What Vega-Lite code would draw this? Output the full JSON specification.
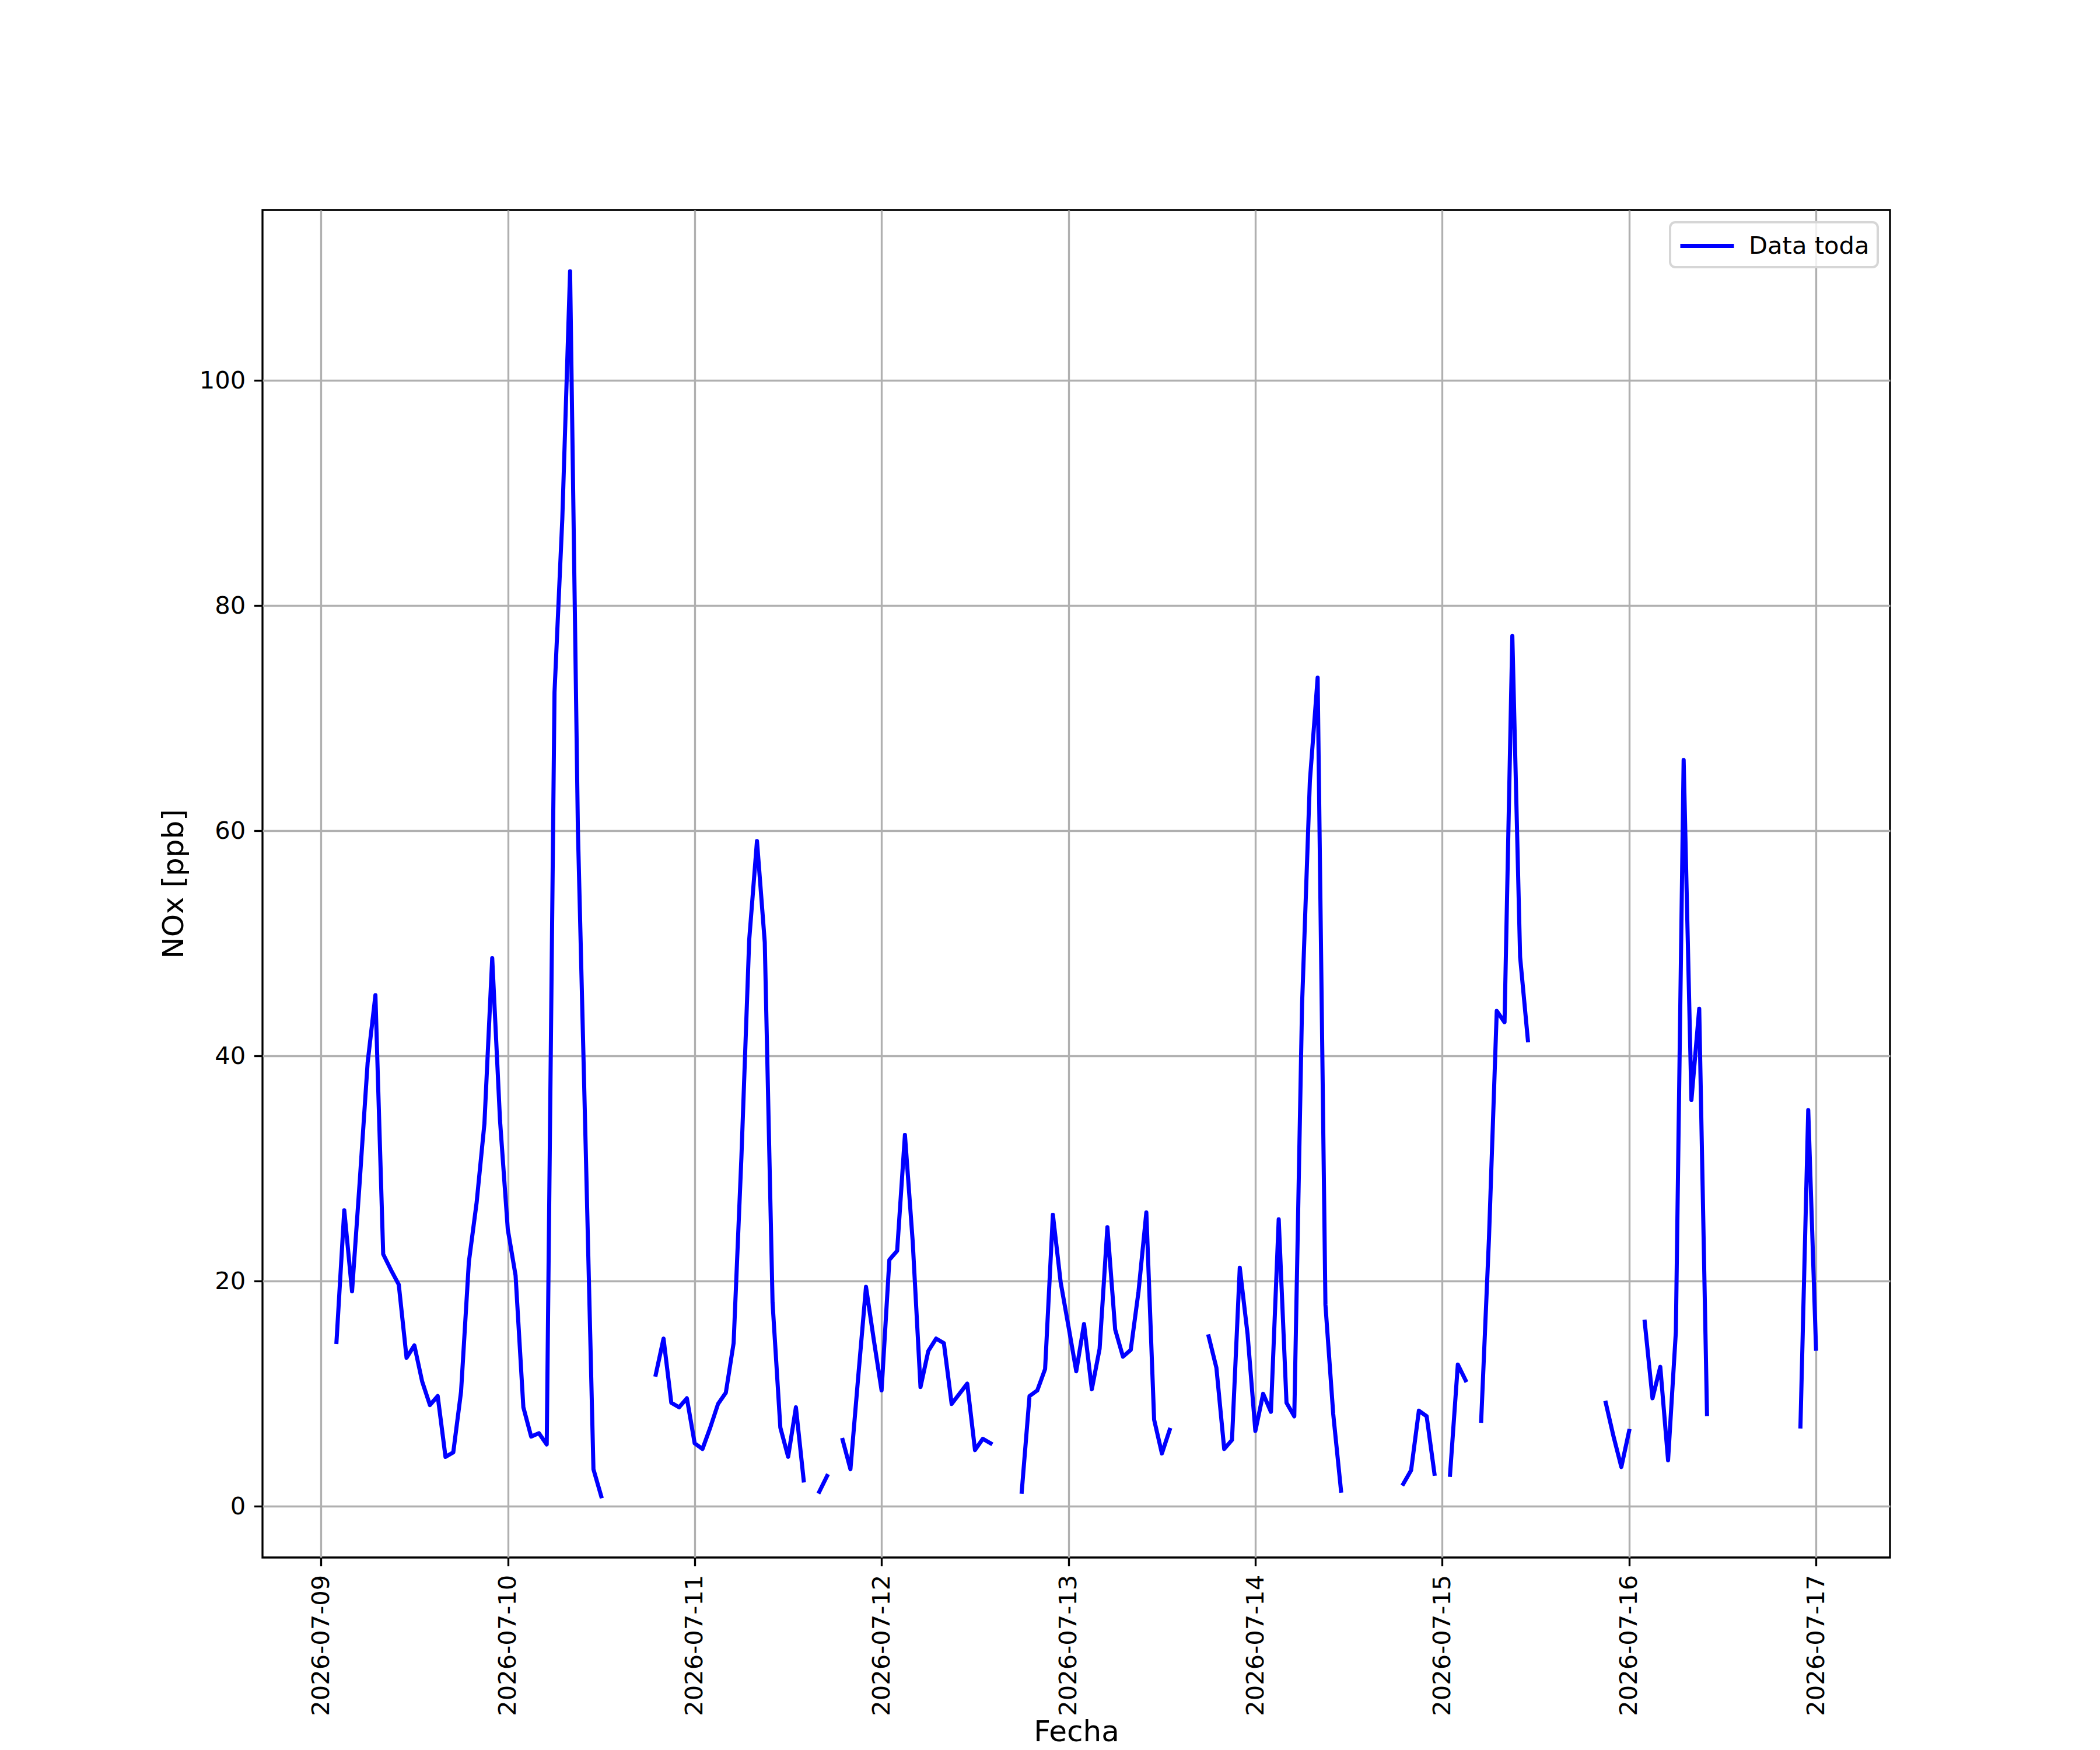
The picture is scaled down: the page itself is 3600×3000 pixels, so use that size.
{
  "$schema": "https://vega.github.io/schema/vega-lite/v6.json",
  "width": 2790,
  "height": 2310,
  "autosize": {"type": "none"},
  "padding": {"left": 450, "top": 360, "right": 360, "bottom": 330},
  "background": "white",
  "data": {
    "values": [
      {"fecha": "2026-07-09T02:00", "nox": 14.6},
      {"fecha": "2026-07-09T03:00", "nox": 26.3},
      {"fecha": "2026-07-09T04:00", "nox": 19.1},
      {"fecha": "2026-07-09T05:00", "nox": 29.0},
      {"fecha": "2026-07-09T06:00", "nox": 39.4},
      {"fecha": "2026-07-09T07:00", "nox": 45.4},
      {"fecha": "2026-07-09T08:00", "nox": 22.4},
      {"fecha": "2026-07-09T09:00", "nox": 21.0},
      {"fecha": "2026-07-09T10:00", "nox": 19.7},
      {"fecha": "2026-07-09T11:00", "nox": 13.2},
      {"fecha": "2026-07-09T12:00", "nox": 14.3},
      {"fecha": "2026-07-09T13:00", "nox": 11.1},
      {"fecha": "2026-07-09T14:00", "nox": 9.0},
      {"fecha": "2026-07-09T15:00", "nox": 9.8},
      {"fecha": "2026-07-09T16:00", "nox": 4.4},
      {"fecha": "2026-07-09T17:00", "nox": 4.8},
      {"fecha": "2026-07-09T18:00", "nox": 10.2},
      {"fecha": "2026-07-09T19:00", "nox": 21.7},
      {"fecha": "2026-07-09T20:00", "nox": 27.0},
      {"fecha": "2026-07-09T21:00", "nox": 34.0},
      {"fecha": "2026-07-09T22:00", "nox": 48.7},
      {"fecha": "2026-07-09T23:00", "nox": 34.3},
      {"fecha": "2026-07-10T00:00", "nox": 24.6},
      {"fecha": "2026-07-10T01:00", "nox": 20.5},
      {"fecha": "2026-07-10T02:00", "nox": 8.8},
      {"fecha": "2026-07-10T03:00", "nox": 6.2},
      {"fecha": "2026-07-10T04:00", "nox": 6.5},
      {"fecha": "2026-07-10T05:00", "nox": 5.5},
      {"fecha": "2026-07-10T06:00", "nox": 72.3},
      {"fecha": "2026-07-10T07:00", "nox": 87.7},
      {"fecha": "2026-07-10T08:00", "nox": 109.7},
      {"fecha": "2026-07-10T09:00", "nox": 60.2},
      {"fecha": "2026-07-10T10:00", "nox": 32.0},
      {"fecha": "2026-07-10T11:00", "nox": 3.3},
      {"fecha": "2026-07-10T12:00", "nox": 0.9},
      {"fecha": "2026-07-10T13:00", "nox": null},
      {"fecha": "2026-07-10T14:00", "nox": null},
      {"fecha": "2026-07-10T15:00", "nox": null},
      {"fecha": "2026-07-10T16:00", "nox": null},
      {"fecha": "2026-07-10T17:00", "nox": null},
      {"fecha": "2026-07-10T18:00", "nox": null},
      {"fecha": "2026-07-10T19:00", "nox": 11.7},
      {"fecha": "2026-07-10T20:00", "nox": 14.9},
      {"fecha": "2026-07-10T21:00", "nox": 9.2},
      {"fecha": "2026-07-10T22:00", "nox": 8.8},
      {"fecha": "2026-07-10T23:00", "nox": 9.6},
      {"fecha": "2026-07-11T00:00", "nox": 5.6},
      {"fecha": "2026-07-11T01:00", "nox": 5.1},
      {"fecha": "2026-07-11T02:00", "nox": 7.0},
      {"fecha": "2026-07-11T03:00", "nox": 9.1},
      {"fecha": "2026-07-11T04:00", "nox": 10.1},
      {"fecha": "2026-07-11T05:00", "nox": 14.5},
      {"fecha": "2026-07-11T06:00", "nox": 31.0},
      {"fecha": "2026-07-11T07:00", "nox": 50.3},
      {"fecha": "2026-07-11T08:00", "nox": 59.1},
      {"fecha": "2026-07-11T09:00", "nox": 50.1},
      {"fecha": "2026-07-11T10:00", "nox": 18.1},
      {"fecha": "2026-07-11T11:00", "nox": 7.0},
      {"fecha": "2026-07-11T12:00", "nox": 4.4},
      {"fecha": "2026-07-11T13:00", "nox": 8.8},
      {"fecha": "2026-07-11T14:00", "nox": 2.3},
      {"fecha": "2026-07-11T15:00", "nox": null},
      {"fecha": "2026-07-11T16:00", "nox": 1.3},
      {"fecha": "2026-07-11T17:00", "nox": 2.7},
      {"fecha": "2026-07-11T18:00", "nox": null},
      {"fecha": "2026-07-11T19:00", "nox": 5.9},
      {"fecha": "2026-07-11T20:00", "nox": 3.3},
      {"fecha": "2026-07-11T21:00", "nox": 11.5},
      {"fecha": "2026-07-11T22:00", "nox": 19.5},
      {"fecha": "2026-07-11T23:00", "nox": 14.8},
      {"fecha": "2026-07-12T00:00", "nox": 10.3},
      {"fecha": "2026-07-12T01:00", "nox": 21.9},
      {"fecha": "2026-07-12T02:00", "nox": 22.7},
      {"fecha": "2026-07-12T03:00", "nox": 33.0},
      {"fecha": "2026-07-12T04:00", "nox": 23.5},
      {"fecha": "2026-07-12T05:00", "nox": 10.6},
      {"fecha": "2026-07-12T06:00", "nox": 13.8},
      {"fecha": "2026-07-12T07:00", "nox": 14.9},
      {"fecha": "2026-07-12T08:00", "nox": 14.5},
      {"fecha": "2026-07-12T09:00", "nox": 9.1},
      {"fecha": "2026-07-12T10:00", "nox": 10.0},
      {"fecha": "2026-07-12T11:00", "nox": 10.9},
      {"fecha": "2026-07-12T12:00", "nox": 5.0},
      {"fecha": "2026-07-12T13:00", "nox": 6.0},
      {"fecha": "2026-07-12T14:00", "nox": 5.6},
      {"fecha": "2026-07-12T15:00", "nox": null},
      {"fecha": "2026-07-12T16:00", "nox": null},
      {"fecha": "2026-07-12T17:00", "nox": null},
      {"fecha": "2026-07-12T18:00", "nox": 1.3},
      {"fecha": "2026-07-12T19:00", "nox": 9.8},
      {"fecha": "2026-07-12T20:00", "nox": 10.3},
      {"fecha": "2026-07-12T21:00", "nox": 12.2},
      {"fecha": "2026-07-12T22:00", "nox": 25.9},
      {"fecha": "2026-07-12T23:00", "nox": 19.9},
      {"fecha": "2026-07-13T00:00", "nox": 16.0},
      {"fecha": "2026-07-13T01:00", "nox": 12.0},
      {"fecha": "2026-07-13T02:00", "nox": 16.2},
      {"fecha": "2026-07-13T03:00", "nox": 10.4},
      {"fecha": "2026-07-13T04:00", "nox": 14.0},
      {"fecha": "2026-07-13T05:00", "nox": 24.8},
      {"fecha": "2026-07-13T06:00", "nox": 15.7},
      {"fecha": "2026-07-13T07:00", "nox": 13.3},
      {"fecha": "2026-07-13T08:00", "nox": 13.9},
      {"fecha": "2026-07-13T09:00", "nox": 19.1},
      {"fecha": "2026-07-13T10:00", "nox": 26.1},
      {"fecha": "2026-07-13T11:00", "nox": 7.7},
      {"fecha": "2026-07-13T12:00", "nox": 4.7},
      {"fecha": "2026-07-13T13:00", "nox": 6.8},
      {"fecha": "2026-07-13T14:00", "nox": null},
      {"fecha": "2026-07-13T15:00", "nox": null},
      {"fecha": "2026-07-13T16:00", "nox": null},
      {"fecha": "2026-07-13T17:00", "nox": null},
      {"fecha": "2026-07-13T18:00", "nox": 15.1},
      {"fecha": "2026-07-13T19:00", "nox": 12.3},
      {"fecha": "2026-07-13T20:00", "nox": 5.1},
      {"fecha": "2026-07-13T21:00", "nox": 5.9},
      {"fecha": "2026-07-13T22:00", "nox": 21.2},
      {"fecha": "2026-07-13T23:00", "nox": 15.3},
      {"fecha": "2026-07-14T00:00", "nox": 6.7},
      {"fecha": "2026-07-14T01:00", "nox": 10.0},
      {"fecha": "2026-07-14T02:00", "nox": 8.4},
      {"fecha": "2026-07-14T03:00", "nox": 25.5},
      {"fecha": "2026-07-14T04:00", "nox": 9.2},
      {"fecha": "2026-07-14T05:00", "nox": 8.0},
      {"fecha": "2026-07-14T06:00", "nox": 44.6},
      {"fecha": "2026-07-14T07:00", "nox": 64.4},
      {"fecha": "2026-07-14T08:00", "nox": 73.6},
      {"fecha": "2026-07-14T09:00", "nox": 17.9},
      {"fecha": "2026-07-14T10:00", "nox": 8.2},
      {"fecha": "2026-07-14T11:00", "nox": 1.4},
      {"fecha": "2026-07-14T12:00", "nox": null},
      {"fecha": "2026-07-14T13:00", "nox": null},
      {"fecha": "2026-07-14T14:00", "nox": null},
      {"fecha": "2026-07-14T15:00", "nox": null},
      {"fecha": "2026-07-14T16:00", "nox": null},
      {"fecha": "2026-07-14T17:00", "nox": null},
      {"fecha": "2026-07-14T18:00", "nox": null},
      {"fecha": "2026-07-14T19:00", "nox": 2.0},
      {"fecha": "2026-07-14T20:00", "nox": 3.2},
      {"fecha": "2026-07-14T21:00", "nox": 8.5},
      {"fecha": "2026-07-14T22:00", "nox": 8.0},
      {"fecha": "2026-07-14T23:00", "nox": 2.9},
      {"fecha": "2026-07-15T00:00", "nox": null},
      {"fecha": "2026-07-15T01:00", "nox": 2.8},
      {"fecha": "2026-07-15T02:00", "nox": 12.6},
      {"fecha": "2026-07-15T03:00", "nox": 11.2},
      {"fecha": "2026-07-15T04:00", "nox": null},
      {"fecha": "2026-07-15T05:00", "nox": 7.6},
      {"fecha": "2026-07-15T06:00", "nox": 23.8},
      {"fecha": "2026-07-15T07:00", "nox": 44.0},
      {"fecha": "2026-07-15T08:00", "nox": 43.0},
      {"fecha": "2026-07-15T09:00", "nox": 77.3},
      {"fecha": "2026-07-15T10:00", "nox": 48.8},
      {"fecha": "2026-07-15T11:00", "nox": 41.4},
      {"fecha": "2026-07-15T12:00", "nox": null},
      {"fecha": "2026-07-15T13:00", "nox": null},
      {"fecha": "2026-07-15T14:00", "nox": null},
      {"fecha": "2026-07-15T15:00", "nox": null},
      {"fecha": "2026-07-15T16:00", "nox": null},
      {"fecha": "2026-07-15T17:00", "nox": null},
      {"fecha": "2026-07-15T18:00", "nox": null},
      {"fecha": "2026-07-15T19:00", "nox": null},
      {"fecha": "2026-07-15T20:00", "nox": null},
      {"fecha": "2026-07-15T21:00", "nox": 9.2},
      {"fecha": "2026-07-15T22:00", "nox": 6.2},
      {"fecha": "2026-07-15T23:00", "nox": 3.5},
      {"fecha": "2026-07-16T00:00", "nox": 6.7},
      {"fecha": "2026-07-16T01:00", "nox": null},
      {"fecha": "2026-07-16T02:00", "nox": 16.4},
      {"fecha": "2026-07-16T03:00", "nox": 9.6},
      {"fecha": "2026-07-16T04:00", "nox": 12.4},
      {"fecha": "2026-07-16T05:00", "nox": 4.1},
      {"fecha": "2026-07-16T06:00", "nox": 15.5},
      {"fecha": "2026-07-16T07:00", "nox": 66.3},
      {"fecha": "2026-07-16T08:00", "nox": 36.1},
      {"fecha": "2026-07-16T09:00", "nox": 44.2},
      {"fecha": "2026-07-16T10:00", "nox": 8.2},
      {"fecha": "2026-07-16T11:00", "nox": null},
      {"fecha": "2026-07-16T12:00", "nox": null},
      {"fecha": "2026-07-16T13:00", "nox": null},
      {"fecha": "2026-07-16T14:00", "nox": null},
      {"fecha": "2026-07-16T15:00", "nox": null},
      {"fecha": "2026-07-16T16:00", "nox": null},
      {"fecha": "2026-07-16T17:00", "nox": null},
      {"fecha": "2026-07-16T18:00", "nox": null},
      {"fecha": "2026-07-16T19:00", "nox": null},
      {"fecha": "2026-07-16T20:00", "nox": null},
      {"fecha": "2026-07-16T21:00", "nox": null},
      {"fecha": "2026-07-16T22:00", "nox": 7.1},
      {"fecha": "2026-07-16T23:00", "nox": 35.2},
      {"fecha": "2026-07-17T00:00", "nox": 14.0}
    ]
  },
  "mark": {
    "type": "line",
    "strokeWidth": 7,
    "strokeJoin": "round",
    "strokeCap": "square",
    "clip": true
  },
  "encoding": {
    "x": {
      "field": "fecha",
      "type": "temporal",
      "title": "Fecha",
      "scale": {
        "domain": [
          {"year": 2026, "month": 7, "date": 8, "hours": 16, "minutes": 30},
          {"year": 2026, "month": 7, "date": 17, "hours": 9, "minutes": 30}
        ],
        "nice": false
      },
      "axis": {
        "values": [
          {"year": 2026, "month": 7, "date": 9},
          {"year": 2026, "month": 7, "date": 10},
          {"year": 2026, "month": 7, "date": 11},
          {"year": 2026, "month": 7, "date": 12},
          {"year": 2026, "month": 7, "date": 13},
          {"year": 2026, "month": 7, "date": 14},
          {"year": 2026, "month": 7, "date": 15},
          {"year": 2026, "month": 7, "date": 16},
          {"year": 2026, "month": 7, "date": 17}
        ],
        "format": "%Y-%m-%d",
        "labelAngle": 270,
        "titlePadding": 74
      }
    },
    "y": {
      "field": "nox",
      "type": "quantitative",
      "title": "NOx [ppb]",
      "scale": {"domain": [-4.54, 115.14], "nice": false, "zero": false},
      "axis": {"values": [0, 20, 40, 60, 80, 100], "titlePadding": 18}
    },
    "color": {
      "datum": "Data toda",
      "type": "nominal",
      "scale": {"range": ["#0000ff"]},
      "legend": {
        "title": null,
        "orient": "top-right",
        "offset": 21,
        "padding": 14,
        "cornerRadius": 9,
        "strokeColor": "#d6d6d6",
        "fillColor": "rgba(255,255,255,0.8)",
        "symbolType": "M-1,0H3",
        "symbolSize": 2116,
        "symbolStrokeWidth": 7,
        "symbolFillColor": "transparent",
        "labelOffset": 68,
        "labelFont": "DejaVu Sans",
        "labelFontSize": 41.67,
        "labelColor": "black",
        "labelLimit": 0,
        "encode": {"legend": {"update": {"strokeWidth": {"value": 4}}}}
      }
    }
  },
  "config": {
    "view": {"stroke": "black", "strokeWidth": 3.33},
    "axis": {
      "domain": false,
      "grid": true,
      "gridColor": "#b0b0b0",
      "gridWidth": 3.33,
      "gridOpacity": 1,
      "ticks": true,
      "tickColor": "black",
      "tickWidth": 3.33,
      "tickSize": 14.6,
      "labelFont": "DejaVu Sans",
      "labelFontSize": 41.67,
      "labelColor": "black",
      "labelPadding": 14.6,
      "labelLimit": 0,
      "labelFlush": false,
      "labelOverlap": false,
      "titleFont": "DejaVu Sans",
      "titleFontSize": 50,
      "titleFontWeight": "normal",
      "titleColor": "black"
    }
  }
}
